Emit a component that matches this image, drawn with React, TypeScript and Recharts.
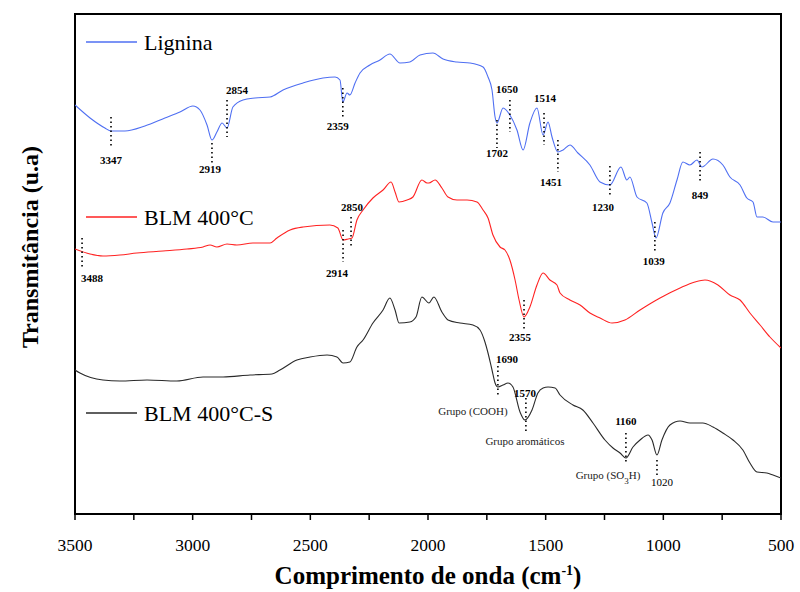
import React from 'react';
import { LineChart, Line, XAxis, YAxis, ReferenceLine, ReferenceDot, ReferenceArea } from 'recharts';

// Lignina (wavenumber, transmittance a.u.)
const ligninaWn = [3500, 3436, 3373, 3347, 3288, 3203, 3118, 3054, 2999, 2969, 2939, 2918, 2897, 2875, 2854, 2829, 2786, 2735, 2671, 2616, 2531, 2446, 2395, 2374, 2362, 2344, 2332, 2310, 2289, 2247, 2204, 2162, 2119, 2077, 2034, 1979, 1936, 1877, 1822, 1766, 1745, 1728, 1715, 1707, 1681, 1652, 1622, 1596, 1567, 1537, 1511, 1490, 1473, 1448, 1426, 1397, 1363, 1312, 1269, 1227, 1180, 1155, 1142, 1112, 1070, 1048, 1031, 1002, 972, 942, 917, 887, 857, 836, 789, 747, 717, 674, 645, 619, 602, 577, 534, 500];
const ligninaT = [81.8, 79.2, 77.2, 76.6, 76.6, 77.6, 79.2, 80.4, 81.6, 80.8, 77.8, 74.8, 76.4, 78.2, 77.2, 81.4, 82.8, 83.2, 83.4, 84.8, 86.2, 87.2, 87.4, 86.8, 82.4, 84.2, 83.8, 86.2, 88.2, 89.8, 90.8, 92.0, 90.2, 90.4, 91.8, 92.2, 91.0, 90.4, 90.2, 89.4, 87.4, 84.8, 79.4, 78.2, 81.2, 79.8, 76.8, 72.8, 78.2, 81.2, 75.8, 78.4, 75.4, 72.4, 72.8, 73.8, 72.2, 69.8, 66.4, 65.8, 69.4, 66.8, 67.4, 63.4, 62.2, 58.2, 55.2, 60.2, 62.2, 66.8, 70.4, 69.8, 70.8, 69.4, 71.0, 69.8, 67.4, 65.8, 63.2, 62.4, 59.4, 59.4, 58.4, 58.4];

// BLM 400°C
const blm400Wn = [3500, 3436, 3381, 3309, 3237, 3126, 3024, 2956, 2926, 2897, 2854, 2812, 2744, 2671, 2642, 2586, 2531, 2417, 2383, 2361, 2340, 2323, 2302, 2276, 2234, 2191, 2157, 2140, 2123, 2089, 2064, 2026, 2004, 1996, 1970, 1941, 1915, 1877, 1834, 1792, 1766, 1745, 1724, 1694, 1673, 1652, 1630, 1613, 1592, 1567, 1537, 1511, 1482, 1452, 1439, 1397, 1354, 1312, 1269, 1218, 1163, 1099, 1014, 929, 866, 823, 768, 717, 674, 632, 589, 547, 500];
const blm400T = [53.0, 52.0, 51.6, 51.8, 52.2, 52.6, 53.0, 53.4, 53.8, 53.4, 54.0, 53.8, 54.2, 54.2, 55.2, 56.8, 57.4, 57.8, 57.2, 54.8, 55.0, 55.2, 58.8, 60.8, 63.2, 64.8, 66.4, 64.4, 62.4, 62.8, 63.4, 66.8, 66.2, 66.2, 66.8, 65.2, 63.4, 62.8, 62.8, 62.4, 60.8, 59.2, 55.8, 53.4, 52.8, 50.8, 46.8, 42.8, 39.4, 41.4, 45.8, 48.2, 46.8, 45.8, 44.2, 42.8, 41.8, 40.2, 39.2, 38.2, 38.8, 40.8, 43.2, 45.2, 46.4, 46.8, 45.8, 43.8, 42.8, 40.2, 37.8, 35.4, 33.2];

// BLM 400°C-S
const blm400SWn = [3500, 3479, 3381, 3309, 3194, 3067, 2956, 2871, 2756, 2663, 2629, 2557, 2501, 2429, 2387, 2361, 2332, 2302, 2276, 2234, 2191, 2162, 2140, 2123, 2077, 2051, 2026, 1996, 1975, 1941, 1915, 1864, 1809, 1779, 1758, 1745, 1728, 1715, 1703, 1681, 1660, 1639, 1609, 1588, 1558, 1533, 1511, 1490, 1460, 1439, 1384, 1342, 1299, 1248, 1214, 1184, 1159, 1129, 1099, 1065, 1048, 1027, 1006, 972, 929, 887, 832, 789, 747, 704, 662, 632, 602, 560, 534, 500];
const blm400ST = [28.8, 28.2, 26.8, 26.6, 26.8, 26.6, 27.4, 27.4, 27.8, 28.0, 28.8, 30.8, 31.4, 31.8, 31.4, 30.2, 30.4, 33.4, 34.8, 38.2, 40.8, 43.2, 40.8, 38.2, 38.4, 39.4, 43.4, 42.2, 43.4, 40.4, 38.8, 38.2, 37.8, 36.8, 34.4, 32.2, 28.8, 26.2, 25.4, 25.8, 26.2, 25.4, 20.4, 18.8, 20.8, 24.2, 25.2, 25.4, 25.2, 23.8, 21.8, 20.8, 18.2, 14.8, 13.2, 12.2, 11.2, 13.4, 14.8, 15.8, 14.8, 11.8, 14.8, 17.8, 18.6, 18.2, 18.2, 17.4, 16.2, 14.8, 12.8, 10.2, 8.4, 8.2, 7.8, 7.2];

const xTicks = [3500, 3250, 3000, 2750, 2500, 2250, 2000, 1750, 1500, 1250, 1000, 750, 500];

// Peak annotations: x, dotted line from y1 to y2, label text, label y, label dx, bold
const peakX = [3347, 2918, 2854, 2362, 1707, 1652, 1507, 1448, 1227, 1036, 844, 3470, 2361, 2327, 1592, 1703, 1584, 1159, 1027];
const peakY1 = [79.4, 74.2, 82.8, 85.2, 78.8, 82.8, 80.2, 74.8, 69.6, 58.4, 72.4, 55.2, 56.8, 59.4, 42.8, 29.6, 23.2, 16.2, 10.8];
const peakY2 = [73.4, 69.8, 75.4, 79.2, 73.2, 76.4, 73.8, 68.4, 63.6, 52.4, 66.4, 49.4, 50.4, 53.2, 36.8, 23.8, 16.2, 10.4, 7.8];
const peakLabels = ['3347', '2919', '2854', '2359', '1702', '1650', '1514', '1451', '1230', '1039', '849', '3488', '2914', '2850', '2355', '1690', '1570', '1160', '1020'];
const peakLabelY = [70.8, 69.0, 84.8, 77.6, 72.2, 85.0, 83.2, 66.4, 61.4, 50.6, 63.8, 47.2, 48.2, 61.4, 35.4, 31.0, 24.2, 18.6, 6.4];
const peakLabelDx = [0, -2, 10, -5, 0, -3, 1, -7, -7, -1, 0, 10, -6, 1, -4, 9, -1, 0, 5];
const peakBold = [true, true, true, true, true, true, true, true, true, true, true, true, true, true, true, true, true, true, false];

const groupX = [1809, 1588, 1235];
const groupY = [20.6, 14.6, 7.8];

const series = [
  { name: 'Lignina', wn: ligninaWn, t: ligninaT, color: '#4f6ff2' },
  { name: 'BLM 400°C', wn: blm400Wn, t: blm400T, color: '#ff2222' },
  { name: 'BLM 400°C-S', wn: blm400SWn, t: blm400ST, color: '#2a2a2a' },
];
const legendY = [42, 217, 413];

const FONT = "'Liberation Serif', 'Times New Roman', Times, serif";
const fs = (size: number, weight: string = 'normal') => ({ fontFamily: FONT, fontSize: size, fontWeight: weight as any });

export default function App() {
  const seriesData = series.map(s => s.wn.map((w, i) => ({ x: w, y: s.t[i] })));
  return (
    <div style={{ position: 'absolute', left: 0, top: 0, width: 800, height: 592, background: '#fff', fontFamily: FONT }}>
      <LineChart width={800} height={592} margin={{ top: 14, right: 19, left: 75, bottom: 48 }} style={{ fontFamily: FONT }}>
        <XAxis
          xAxisId="b"
          type="number"
          dataKey="x"
          domain={[500, 3500]}
          reversed
          ticks={xTicks}
          interval={0}
          tickFormatter={(v: number) => (v % 500 === 0 ? String(v) : '')}
          tickSize={6}
          tickMargin={19}
          height={30}
          axisLine={{ stroke: '#000', strokeWidth: 2 }}
          tickLine={{ stroke: '#000', strokeWidth: 1.5 }}
          tick={{ fill: '#000', fontSize: 17.5, fontFamily: FONT, style: { fontFamily: FONT } }}
          allowDataOverflow
        />
        <YAxis
          yAxisId="l"
          type="number"
          domain={[0, 100]}
          hide
          allowDataOverflow
        />
        <ReferenceArea
          xAxisId="b"
          yAxisId="l"
          x1={3500}
          x2={500}
          y1={0}
          y2={100}
          fill="none"
          fillOpacity={0}
          stroke="#000"
          strokeWidth={2}
          ifOverflow="visible"
        />
        {series.map((s, i) => (
          <Line
            key={s.name}
            xAxisId="b"
            yAxisId="l"
            data={seriesData[i]}
            dataKey="y"
            type="monotone"
            stroke={s.color}
            strokeWidth={1.1}
            dot={false}
            isAnimationActive={false}
          />
        ))}
        {peakX.map((x, i) => (
          <ReferenceLine
            key={'pl' + i}
            xAxisId="b"
            yAxisId="l"
            segment={[{ x, y: peakY1[i] }, { x, y: peakY2[i] }]}
            stroke="#000"
            strokeWidth={1.6}
            strokeDasharray="1.5 3"
            ifOverflow="visible"
          />
        ))}
        {peakX.map((x, i) => (
          <ReferenceDot
            key={'pt' + i}
            xAxisId="b"
            yAxisId="l"
            x={x}
            y={peakLabelY[i]}
            r={0}
            ifOverflow="visible"
            shape={(p: any) => (
              <text
                x={p.cx + peakLabelDx[i]}
                y={p.cy}
                textAnchor="middle"
                dominantBaseline="central"
                style={fs(11, peakBold[i] ? 'bold' : 'normal')}
                fill="#000"
              >
                {peakLabels[i]}
              </text>
            )}
          />
        ))}
        {groupX.map((x, i) => (
          <ReferenceDot
            key={'g' + i}
            xAxisId="b"
            yAxisId="l"
            x={x}
            y={groupY[i]}
            r={0}
            ifOverflow="visible"
            shape={(p: any) => (
              <text
                x={p.cx}
                y={p.cy}
                textAnchor="middle"
                dominantBaseline="central"
                style={fs(11)}
                fill="#222"
              >
                {i === 0 && 'Grupo (COOH)'}
                {i === 1 && 'Grupo aromáticos'}
                {i === 2 && (
                  <>
                    Grupo (SO
                    <tspan dy={6} fontSize={9}>3</tspan>
                    <tspan dy={-6}>H)</tspan>
                  </>
                )}
              </text>
            )}
          />
        ))}
        <text x={30} y={247} transform="rotate(-90 30 247)" textAnchor="middle" dominantBaseline="central" style={fs(24, 'bold')} fill="#000">
          Transmitância (u.a)
        </text>
        <text x={428} y={584} textAnchor="middle" style={fs(25, 'bold')} fill="#000">
          Comprimento de onda (cm<tspan dy={-9} fontSize={14}>-1</tspan><tspan dy={9}>)</tspan>
        </text>
        {series.map((s, i) => (
          <g key={'lg' + i}>
            <line x1={86} x2={137} y1={legendY[i]} y2={legendY[i]} stroke={s.color} strokeWidth={1.5} />
            <text x={144} y={legendY[i]} dominantBaseline="central" style={fs(22)} fill="#000">
              {s.name}
            </text>
          </g>
        ))}
      </LineChart>
    </div>
  );
}
